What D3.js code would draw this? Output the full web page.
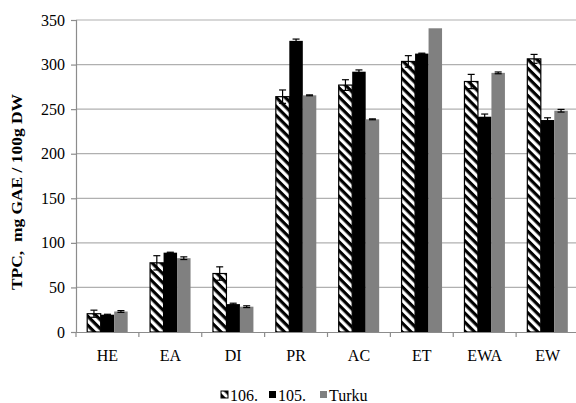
<!DOCTYPE html>
<html>
<head>
<meta charset="utf-8">
<script src="https://cdn.jsdelivr.net/npm/d3@7"></script>
<style>
html,body{margin:0;padding:0;background:#fff;}
svg{display:block;}
text{font-family:"Liberation Serif","Times New Roman",serif;fill:#000;}
</style>
</head>
<body>
<svg id="chart" width="576" height="403"></svg>
<script>
const categories = ["HE","EA","DI","PR","AC","ET","EWA","EW"];
const seriesNames = ["106.","105.","Turku"];
const values106 = [20.5, 77.6, 65.6, 264, 277, 303.5, 281, 306.4];
const errors106 = [4, 8, 7.5, 7.5, 6, 6.5, 8, 5];
const values105 = [19.4, 89, 31.3, 326.6, 292, 312.3, 241.5, 237.8];
const errors105 = [0.5, 0.5, 1, 2, 2, 0.5, 3, 2.5];
const valuesTurku = [23, 82.8, 28.4, 265.5, 238.6, 340.7, 290.7, 248.2];
const errorsTurku = [1, 1.5, 1, 0.5, 0.5, 0, 1, 1.5];
const yTicks = [0, 50, 100, 150, 200, 250, 300, 350];
const yLabel = "TPC,  mg GAE / 100g DW";

const seriesValues = [values106, values105, valuesTurku];
const seriesErrors = [errors106, errors105, errorsTurku];
const fills = ["url(#hatch)", "#000000", "#808080"];
const strokes = ["#000000", "none", "none"];

const svg = d3.select("#chart");
const plotLeft = 76, plotRight = 579, plotTop = 20, plotBottom = 332;
const serif = "Liberation Serif, Times New Roman, serif";

const defs = svg.append("defs");
const pat = defs.append("pattern").attr("id","hatch")
  .attr("patternUnits","userSpaceOnUse").attr("width",6.4).attr("height",6.4)
  .attr("patternTransform","rotate(45)");
pat.append("rect").attr("width",6.4).attr("height",6.4).attr("fill","#fff");
pat.append("rect").attr("width",6.4).attr("height",3.2).attr("fill","#000");

const x = d3.scaleBand().domain(categories).range([plotLeft, plotRight]).paddingInner(0).paddingOuter(0);
const xs = d3.scaleBand().domain(seriesNames).range([0, x.bandwidth()]).paddingInner(0).paddingOuter(0.83);
const y = d3.scaleLinear().domain([0, 350]).range([plotBottom, plotTop]);

// gridlines
svg.append("g").selectAll("line").data(yTicks.filter(d => d > 0)).join("line")
  .attr("x1", plotLeft).attr("x2", plotRight)
  .attr("y1", d => y(d)).attr("y2", d => y(d))
  .attr("stroke", "#b0b0b0").attr("stroke-width", 1.2);

// y axis
const yAxis = d3.axisLeft(y).tickValues(yTicks).tickSize(5).tickPadding(6);
const gy = svg.append("g").attr("transform", `translate(${plotLeft},0)`).call(yAxis)
  .attr("font-family", serif).attr("font-size", 16);
gy.select(".domain").attr("stroke","#8c8c8c").attr("stroke-width",1.2);
gy.selectAll(".tick line").attr("stroke","#8c8c8c").attr("stroke-width",1.2);

// bars
const groups = svg.append("g").selectAll("g").data(seriesNames).join("g");
groups.each(function(s, si){
  const g = d3.select(this);
  g.selectAll("rect").data(categories).join("rect")
    .attr("x", c => x(c) + xs(s))
    .attr("y", (c, i) => y(seriesValues[si][i]))
    .attr("width", xs.bandwidth())
    .attr("height", (c, i) => y(0) - y(seriesValues[si][i]))
    .attr("fill", fills[si])
    .attr("stroke", strokes[si])
    .attr("stroke-width", 1.2);
});

// x axis
const xAxis = d3.axisBottom(x).tickSize(0).tickPadding(18);
const gx = svg.append("g").attr("transform", `translate(0,${plotBottom})`).call(xAxis)
  .attr("font-family", serif).attr("font-size", 16);
gx.select(".domain").attr("stroke","#8c8c8c").attr("stroke-width",1.2);
svg.append("g").selectAll("line").data(categories).join("line")
  .attr("x1", c => x(c)).attr("x2", c => x(c))
  .attr("y1", plotBottom).attr("y2", plotBottom + 5)
  .attr("stroke","#8c8c8c").attr("stroke-width",1.2);

// error bars
const eb = svg.append("g");
seriesNames.forEach((s, si) => {
  categories.forEach((c, i) => {
    const e = seriesErrors[si][i];
    if (!e) return;
    const cx = x(c) + xs(s) + xs.bandwidth()/2;
    const v = seriesValues[si][i];
    const y1 = y(v + e), y2 = y(v - e);
    eb.append("line").attr("x1",cx).attr("x2",cx).attr("y1",y1).attr("y2",y2)
      .attr("stroke","#000").attr("stroke-width",1.2);
    [y1, y2].forEach(yy => eb.append("line").attr("x1",cx-3.5).attr("x2",cx+3.5)
      .attr("y1",yy).attr("y2",yy).attr("stroke","#000").attr("stroke-width",1.2));
  });
});

// y label
svg.append("text")
  .attr("transform", "translate(22,192) rotate(-90)")
  .attr("text-anchor","middle")
  .style("white-space","pre")
  .attr("font-size", 15).attr("font-weight","bold")
  .attr("textLength", 196).attr("lengthAdjust","spacingAndGlyphs")
  .text(yLabel);

// legend
const legendX = [221, 269, 320];
const lg = svg.append("g");
seriesNames.forEach((s, si) => {
  lg.append("rect").attr("x", legendX[si]).attr("y", 391).attr("width", 7).attr("height", 7)
    .attr("fill", fills[si]).attr("stroke", strokes[si]).attr("stroke-width", 1);
  lg.append("text").attr("x", legendX[si] + 9).attr("y", 401)
    .attr("font-size", 16).text(s);
});
</script>
</body>
</html>
